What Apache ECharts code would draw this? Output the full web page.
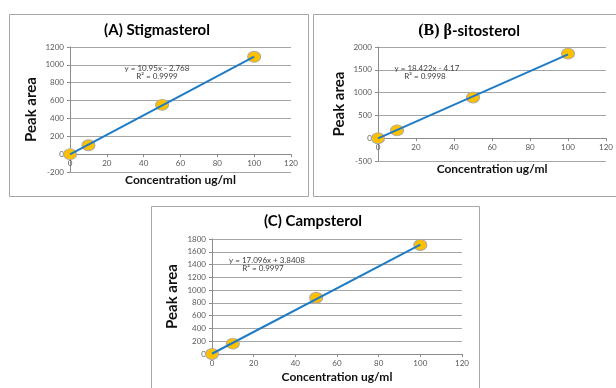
<!DOCTYPE html>
<html><head><meta charset="utf-8">
<script src="https://cdn.jsdelivr.net/npm/echarts@6/dist/echarts.min.js"></script>
<style>html,body{margin:0;padding:0;background:#fff}#c{width:616px;height:388px}</style>
</head><body><div id="c"></div>
<script>
// Data
const concentrations = [0, 10, 50, 100];
const stigmasterolArea = [0, 100, 552, 1090];
const sitosterolArea = [0, 172, 893, 1855];
const campsterolArea = [0, 162, 880, 1706];
// trendline end points (from the printed equations, x = 0 and x = 100)
const trendX = [0, 100];
const trendA = [-2.768, 1092.23];
const trendB = [-4.17, 1838.03];
const trendC = [3.8408, 1713.44];
const xTicks = {min: 0, max: 120, interval: 20};
const yTicksA = {min: -200, max: 1200, interval: 200};
const yTicksB = {min: -500, max: 2000, interval: 500};
const yTicksC = {min: 0, max: 1800, interval: 200};

const FONT = 'Lato, "Open Sans", sans-serif';
const pts = ys => concentrations.map((x, i) => [x, ys[i]]);
const tline = ys => trendX.map((x, i) => [x, ys[i]]);

const grids = [
  {left: 70, top: 47, width: 221, height: 125},
  {left: 378, top: 47, width: 232, height: 114},
  {left: 212, top: 239, width: 250, height: 115}
];
const yT = [yTicksA, yTicksB, yTicksC];
// move the x axis up to the value 0 of the y axis
const xOffsets = grids.map((g, i) => -g.height * (0 - yT[i].min) / (yT[i].max - yT[i].min));
const nameGapsX = [20, 25, 17];
const nameGapsY = [31, 31, 32];

const xAxes = grids.map((g, i) => ({
  type: 'value', gridIndex: i, min: xTicks.min, max: xTicks.max, interval: xTicks.interval,
  position: 'bottom', offset: xOffsets[i],
  name: 'Concentration ug/ml', nameLocation: 'middle', nameGap: nameGapsX[i],
  nameTextStyle: {fontFamily: FONT, fontWeight: 'bold', fontSize: 12, color: '#111'},
  axisLine: {onZero: false, lineStyle: {color: '#8c8c8c', width: 1}},
  axisTick: {show: true, length: 3, lineStyle: {color: '#8c8c8c'}},
  axisLabel: {fontFamily: FONT, fontSize: 8, color: '#595959', margin: 5},
  splitLine: {show: false}
}));
const yAxes = grids.map((g, i) => ({
  type: 'value', gridIndex: i, min: yT[i].min, max: yT[i].max, interval: yT[i].interval,
  name: 'Peak area', nameLocation: 'middle', nameGap: nameGapsY[i], nameRotate: 90,
  nameTextStyle: {fontFamily: FONT, fontWeight: 'bold', fontSize: 15, color: '#111'},
  axisLine: {show: true, onZero: false, lineStyle: {color: '#8c8c8c', width: 1}},
  axisTick: {show: true, length: 3, lineStyle: {color: '#8c8c8c'}},
  axisLabel: {fontFamily: FONT, fontSize: 8, color: '#595959', margin: 6, formatter: v => String(v)},
  splitLine: {show: true, lineStyle: {color: '#a6a6a6', width: 1}}
}));

const datasets = [stigmasterolArea, sitosterolArea, campsterolArea];
const trends = [trendA, trendB, trendC];
const series = [];
datasets.forEach((d, i) => {
  series.push({
    type: 'scatter', xAxisIndex: i, yAxisIndex: i, data: pts(d), symbolSize: [13, 11], z: 2,
    itemStyle: {color: '#FFC000', borderColor: '#a9a9a9', borderWidth: 1, opacity: 1}
  });
  series.push({
    type: 'line', xAxisIndex: i, yAxisIndex: i, data: tline(trends[i]), showSymbol: false, z: 3,
    lineStyle: {color: '#1f7cc4', width: 2}, silent: true
  });
});

const txt = (x, y, text, size, weight, color) => ({
  type: 'text', x: x, y: y, z: 100,
  style: {text: text, font: (weight || 'normal') + ' ' + size + 'px ' + FONT, fill: color || '#404040',
          textAlign: 'center', align: 'center', textVerticalAlign: 'middle', verticalAlign: 'middle'}
});

const graphics = [
  {type: 'rect', shape: {x: 9.5, y: 14.5, width: 299, height: 182}, style: {fill: 'none', stroke: '#a6a6a6', lineWidth: 1}, z: 0, silent: true},
  {type: 'rect', shape: {x: 313.5, y: 14.5, width: 310, height: 182}, style: {fill: 'none', stroke: '#a6a6a6', lineWidth: 1}, z: 0, silent: true},
  {type: 'rect', shape: {x: 151.5, y: 206.5, width: 328, height: 200}, style: {fill: 'none', stroke: '#a6a6a6', lineWidth: 1}, z: 0, silent: true},
  txt(157, 30, '(A) Stigmasterol', 15, 'bold', '#000'),
  {type: 'text', x: 469, y: 31, z: 100, style: {
    text: '{a|(B) }{b|β}{c|-sitosterol}', textAlign: 'center', align: 'center', textVerticalAlign: 'middle', verticalAlign: 'middle',
    rich: {
      a: {fontFamily: '"Liberation Serif", serif', fontWeight: 'bold', fontSize: 16, fill: '#000', color: '#000'},
      b: {fontFamily: '"Liberation Serif", serif', fontWeight: 'bold', fontSize: 16, fill: '#000', color: '#000'},
      c: {fontFamily: FONT, fontWeight: 'bold', fontSize: 15, fill: '#000', color: '#000'}
    }}},
  txt(313, 221, '(C) Campsterol', 15, 'bold', '#000'),
  txt(157, 68, 'y = 10.95x - 2.768', 8),
  txt(157, 76, 'R² = 0.9999', 8),
  txt(427, 68, 'y = 18.422x - 4.17', 8),
  txt(425, 76, 'R² = 0.9998', 8),
  txt(267, 260, 'y = 17.096x + 3.8408', 8),
  txt(263, 268, 'R² = 0.9997', 8)
];

const chart = echarts.init(document.getElementById('c'), null, {renderer: 'canvas'});
chart.setOption({
  backgroundColor: '#ffffff',
  animation: false,
  grid: grids,
  xAxis: xAxes,
  yAxis: yAxes,
  series: series,
  graphic: graphics
});
</script></body></html>
